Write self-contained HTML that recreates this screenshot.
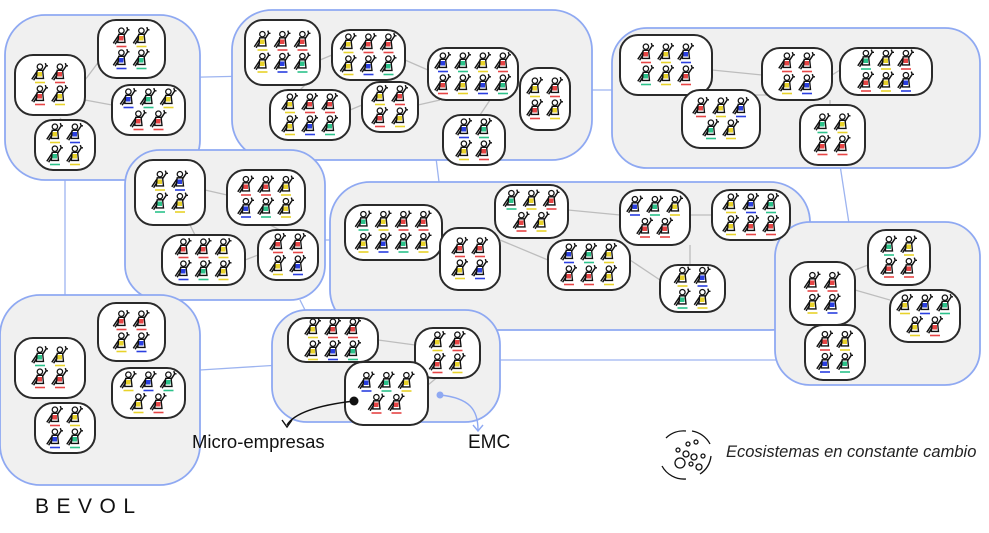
<!DOCTYPE html>
<html><head><meta charset="utf-8"><style>
html,body{margin:0;padding:0;background:#fff;width:989px;height:533px;overflow:hidden}
svg{display:block}
text{font-family:"Liberation Sans",sans-serif}
</style></head><body>
<svg id="s" width="989" height="533" viewBox="0 0 989 533" xmlns="http://www.w3.org/2000/svg">
<defs>
<symbol id="f" viewBox="0 0 20 22" overflow="visible">
<circle cx="11" cy="4" r="3" fill="#fff" stroke="#111" stroke-width="1.4"/>
<path d="M8 8 L14 8 L15 17 L7 17 Z" fill="#fff" stroke="#111" stroke-width="1.5"/>
<path d="M8 9 L2 18 M9 11 L4 19 M14 9 L18 3 L20 3 M18 3 L17 0" fill="none" stroke="#111" stroke-width="1.6"/>
</symbol>
</defs>
<g id="links" stroke="#9db4f0" stroke-width="1.3" fill="none">
<path d="M160 78 L250 76"/><path d="M580 90 L620 90"/><path d="M65 170 L65 300"/>
<path d="M150 150 L170 160"/><path d="M435 150 L440 190"/><path d="M322 240 L340 240"/>
<path d="M800 260 L830 255"/><path d="M840 165 L850 230"/><path d="M170 300 L160 310"/>
<path d="M200 370 L280 365"/><path d="M300 300 L310 320"/><path d="M480 360 L780 360"/>
<path d="M735 295 L780 295"/>
</g>
<g id="blobs" fill="#f0f0f0" stroke="#8fa9f2" stroke-width="1.8"></g>
<g id="glines" stroke="#bdbdbd" stroke-width="1.3" fill="none">
<path d="M85 80 L100 60"/><path d="M85 100 L112 105"/><path d="M60 118 L70 130"/>
<path d="M320 60 L332 55"/><path d="M305 85 L300 90"/><path d="M350 110 L362 105"/><path d="M405 60 L428 70"/><path d="M418 105 L440 100"/><path d="M490 100 L480 115"/><path d="M518 80 L520 90"/>
<path d="M712 70 L762 75"/><path d="M740 95 L770 95"/><path d="M832 75 L840 70"/><path d="M830 100 L830 105"/>
<path d="M205 190 L227 195"/><path d="M190 225 L195 235"/><path d="M245 260 L258 255"/><path d="M270 225 L280 230"/>
<path d="M442 235 L448 240"/><path d="M500 240 L548 260"/><path d="M568 210 L620 215"/><path d="M630 260 L660 280"/><path d="M690 215 L712 215"/><path d="M690 245 L690 265"/>
<path d="M855 290 L890 300"/><path d="M868 265 L855 270"/><path d="M835 325 L840 325"/>
<path d="M378 340 L415 345"/><path d="M350 362 L340 340"/><path d="M428 385 L440 375"/>
</g>
<g id="cells" fill="#fff" stroke="#2a2a2a" stroke-width="2"></g>
<g id="figs"></g>
<path d="M354 401 C320 405 295 412 287 425" fill="none" stroke="#111" stroke-width="1.4"/>
<path d="M282 420 L287 427 L292 420" fill="none" stroke="#111" stroke-width="1.4"/>
<circle cx="354" cy="401" r="4.5" fill="#111"/>
<path d="M440 395 C470 398 478 410 478 430" fill="none" stroke="#8fa9f2" stroke-width="1.4"/>
<path d="M473 425 L478 431 L483 425" fill="none" stroke="#8fa9f2" stroke-width="1.4"/>
<circle cx="440" cy="395" r="3.5" fill="#8fa9f2"/>
<text x="192" y="448" font-size="18.5" fill="#111">Micro-empresas</text>
<text x="468" y="448" font-size="19" fill="#111">EMC</text>
<text x="35" y="513" font-size="21" fill="#111" letter-spacing="7.5">BEVOL</text>
<g transform="translate(658,430)" fill="none" stroke="#111" stroke-width="1.3">
<path d="M8 8 A25 25 0 0 1 28 1"/><path d="M34 1 A25 25 0 0 1 52 14"/>
<path d="M53 26 A25 25 0 0 1 42 44"/><path d="M28 49 A25 25 0 0 1 4 36"/>
<circle cx="30" cy="14" r="2"/><circle cx="38" cy="12" r="2"/><circle cx="20" cy="20" r="2"/><circle cx="28" cy="24" r="3"/><circle cx="36" cy="27" r="3"/><circle cx="45" cy="26" r="2"/><circle cx="22" cy="33" r="5"/><circle cx="33" cy="34" r="2"/><circle cx="41" cy="37" r="3"/>
</g>
<text x="726" y="457" font-size="16.5" font-style="italic" fill="#222">Ecosistemas en constante cambio</text>
</svg>
<script>
var NS="http://www.w3.org/2000/svg";
function el(p,t,a){var e=document.createElementNS(NS,t);for(var k in a)e.setAttribute(k,a[k]);document.getElementById(p).appendChild(e);return e;}
var blobs=[[5,15,195,165,40],[232,10,360,150,40],[612,28,368,140,35],[125,150,200,150,35],[330,182,480,148,40],[775,222,205,163,35],[0,295,200,190,40],[272,310,228,112,35]];
blobs.forEach(function(b){el("blobs","rect",{x:b[0],y:b[1],width:b[2],height:b[3],rx:b[4]});});
var A=[[98,20,67,58,4],[15,55,70,60,4],[112,85,73,50,5],[35,120,60,50,4]];
var cells=[].concat(A,A.map(function(c){return [c[0],c[1]+283,c[2],c[3],c[4]];}),[
[245,20,75,65,6],[332,30,73,50,6],[270,90,80,50,6],[362,82,56,50,4],[428,48,90,52,8],[520,68,50,62,4],[443,115,62,50,4],
[620,35,92,60,6],[682,90,78,58,5],[762,48,70,52,4],[840,48,92,47,6],[800,105,65,60,4],
[135,160,70,65,4],[227,170,78,55,6],[162,235,83,50,6],[258,230,60,50,4],
[345,205,97,55,8],[440,228,60,62,4],[495,185,73,53,5],[548,240,82,50,6],[620,190,70,55,5],[712,190,78,50,6],[660,265,65,47,4],
[790,262,65,63,4],[868,230,62,55,4],[890,290,70,52,5],[805,325,60,55,4],
[288,318,90,44,6],[415,328,65,50,4],[345,362,83,63,5]]);
var cols=["#e64545","#e8d22a","#2a3fe0","#2cc28a","#e8d22a","#e64545"];
var gi=0;
cells.forEach(function(c,i){
 var x=c[0],y=c[1],w=c[2],h=c[3],n=c[4];
 el("cells","rect",{x:x,y:y,width:w,height:h,rx:18});
 var per=Math.ceil(n/2), rows=2, fw=20, fh=22;
 var oy=y+(h-rows*fh)/2;
 for(var r=0;r<rows;r++){var cnt=r==0?per:n-per;var ox=x+(w-cnt*fw)/2;
  for(var k=0;k<cnt;k++){var fx=ox+k*fw,fy=oy+r*fh;var col=cols[(gi++)%6];
   el("figs","use",{href:"#f",x:fx,y:fy,width:18,height:20});
   el("figs","rect",{x:fx+7.5,y:fy+9,width:4.5,height:4.5,fill:col});
   el("figs","line",{x1:fx+5,y1:fy+19.5,x2:fx+15,y2:fy+19.5,stroke:col,"stroke-width":1.6});
  }}
});
</script>
</body></html>
